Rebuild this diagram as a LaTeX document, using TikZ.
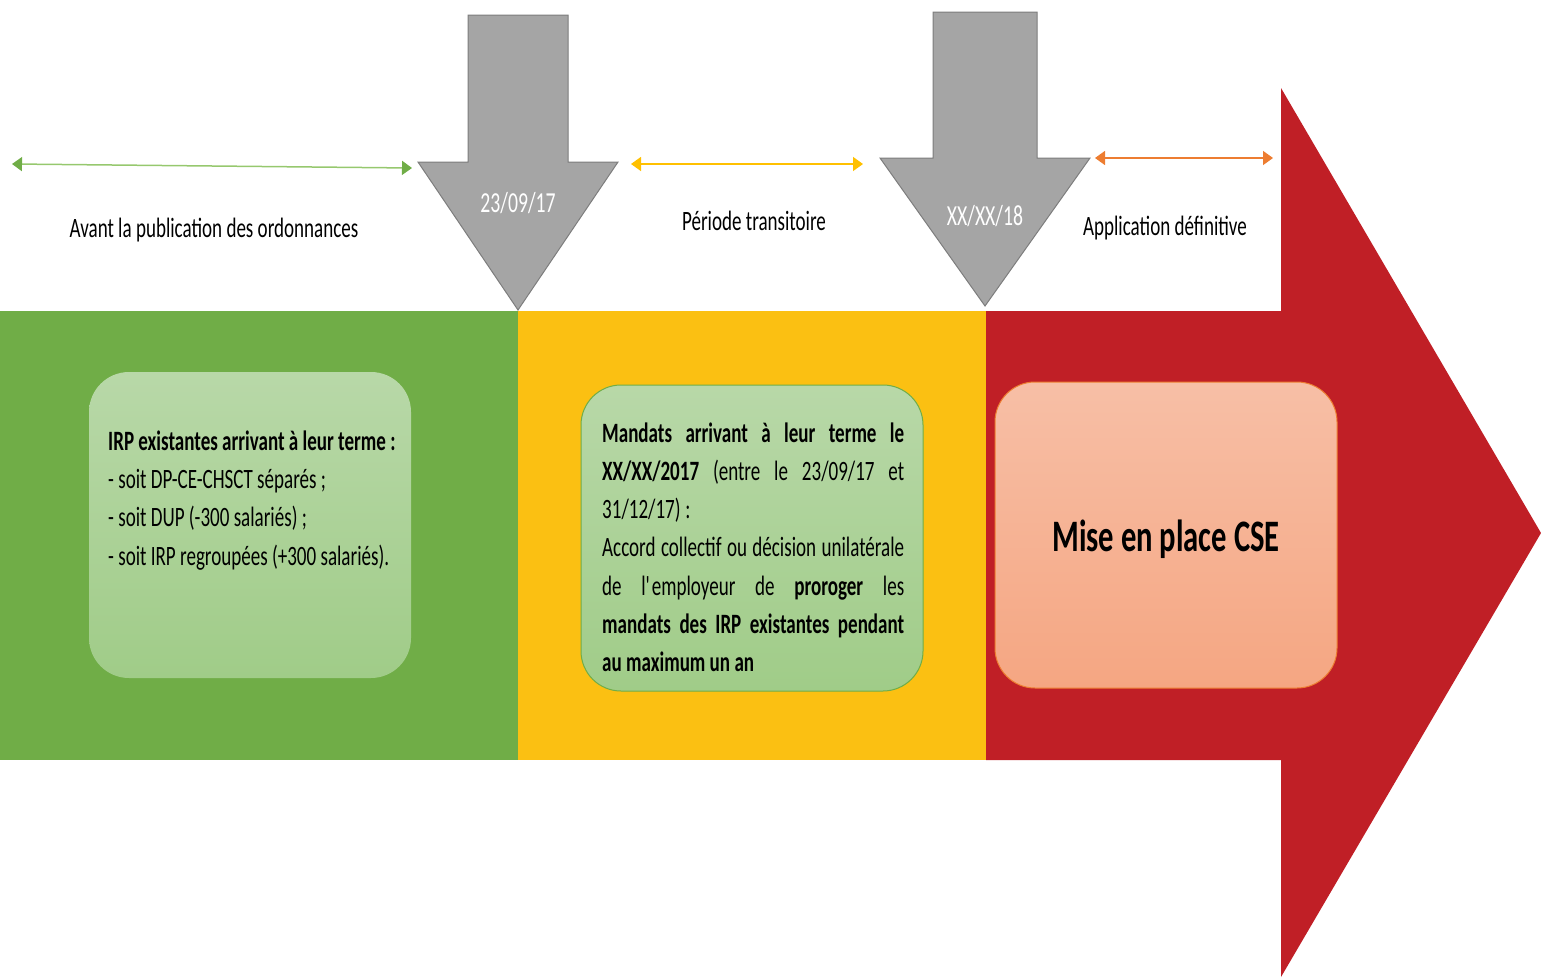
\documentclass[tikz,border=0pt]{standalone}
\usepackage{fontspec}
\setmainfont{Carlito}[FakeStretch=0.68]
\usetikzlibrary{arrows.meta}
\usetikzlibrary{calc}

\definecolor{vert}{RGB}{112,173,71}
\definecolor{vertligne}{RGB}{150,200,110}
\definecolor{jaune}{RGB}{251,192,18}
\definecolor{jauneligne}{RGB}{255,192,0}
\definecolor{rouge}{RGB}{192,31,38}
\definecolor{gris}{RGB}{165,165,165}
\definecolor{grisfonce}{RGB}{125,125,125}
\definecolor{orangeligne}{RGB}{237,125,49}
\definecolor{vertclairhaut}{RGB}{184,216,168}
\definecolor{vertclairbas}{RGB}{160,204,136}
\definecolor{saumonhaut}{RGB}{247,191,166}
\definecolor{saumonbas}{RGB}{245,166,130}

\begin{document}
\begin{tikzpicture}[%
x=1pt, y=-1pt,
>={Triangle[length=10pt,width=14pt]},
fleche/.style={fill=gris, draw=grisfonce, line width=1pt},
date/.style={text=white, inner sep=0pt, font=\fontsize{29}{32}\selectfont},
titre/.style={inner sep=0pt, font=\fontsize{28}{32}\selectfont},
duree/.style={<->, line width=1.5pt},
cadre/.style={anchor=center, rounded corners=40pt, minimum width=#1, minimum height=306pt, inner sep=0pt},
texte/.style={anchor=base west, inner sep=0pt, font=\fontsize{28}{38.3}\selectfont},
anchor=base,
]

\pgfmathsetmacro{\haut}{311}
\pgfmathsetmacro{\bas}{760}

\useasboundingbox (0,0) rectangle (1541,977);

% bandes
\fill[vert] (0,\haut) rectangle (518,\bas);
\fill[jaune] (518,\haut) rectangle (986,\bas);
\fill[rouge] (986,\haut) -- (1281,\haut) -- (1281,88) -- (1541,533) -- (1281,977) -- (1281,\bas) -- (986,\bas) -- cycle;

% dates
\draw[fleche] (468,15) -- (568,15) -- (568,162) -- (618,162) -- (518,310) -- (418,162) -- (468,162) -- cycle;
\draw[fleche] (933,12) -- (1037,12) -- (1037,158) -- (1090,158) -- (985,306) -- (880,158) -- (933,158) -- cycle;
\node[date] (d1) at (518,212) {23/09/17};
\node[date] (d2) at (985,225) {XX/XX/18};

\coordinate (avantG) at (12,164);
\coordinate (avantD) at (412,168);
\coordinate (transG) at (631,164);
\coordinate (transD) at (863,164);
\coordinate (appG) at (1095,158);
\coordinate (appD) at (1273,158);

\draw[duree, vertligne, >={Triangle[length=10pt,width=14pt,color=vert]}] (avantG)--(avantD);
\draw[duree, jauneligne] (transG)--(transD);
\draw[duree, orangeligne] (appG)--(appD);

\node[titre] (avant) at (214,237) {Avant la publication des ordonnances};
\node[titre] (transit) at (754,230) {Période transitoire};
\node[titre] (applic) at (1165,235) {Application définitive};

% cadres
\node[cadre=322pt, top color=vertclairhaut, bottom color=vertclairbas] (irp) at (250,525) {};
\node[cadre=342pt, top color=vertclairhaut, bottom color=vertclairbas, draw=vert, line width=1pt] (mandats) at (752,538) {};
\node[cadre=342pt, top color=saumonhaut, bottom color=saumonbas, draw=orangeligne, line width=1pt] (cse) at (1166,535) {};

\node[texte, align=left] (irptxt) at (108,565) {\textbf{IRP existantes arrivant à leur terme :}\\
- soit DP-CE-CHSCT séparés ;\\
- soit DUP (-300 salariés) ;\\
- soit IRP regroupées (+300 salariés).};

\node[texte, text width=302pt, align=justify] (mandtxt) at (602,442) {\textbf{Mandats arrivant à leur terme le}\linebreak
\textbf{XX/XX/2017} (entre le 23/09/17 et\linebreak
31/12/17)\,:\\
Accord collectif ou décision unilatérale\linebreak
de l\textquotesingle employeur de \textbf{proroger} les\linebreak
\textbf{mandats des IRP existantes pendant}\linebreak
\textbf{au maximum un an}};

\node[font=\bfseries\fontsize{45}{52}\selectfont, inner sep=0pt] (csetxt) at (1166,551) {Mise en place CSE};

\end{tikzpicture}
\end{document}
